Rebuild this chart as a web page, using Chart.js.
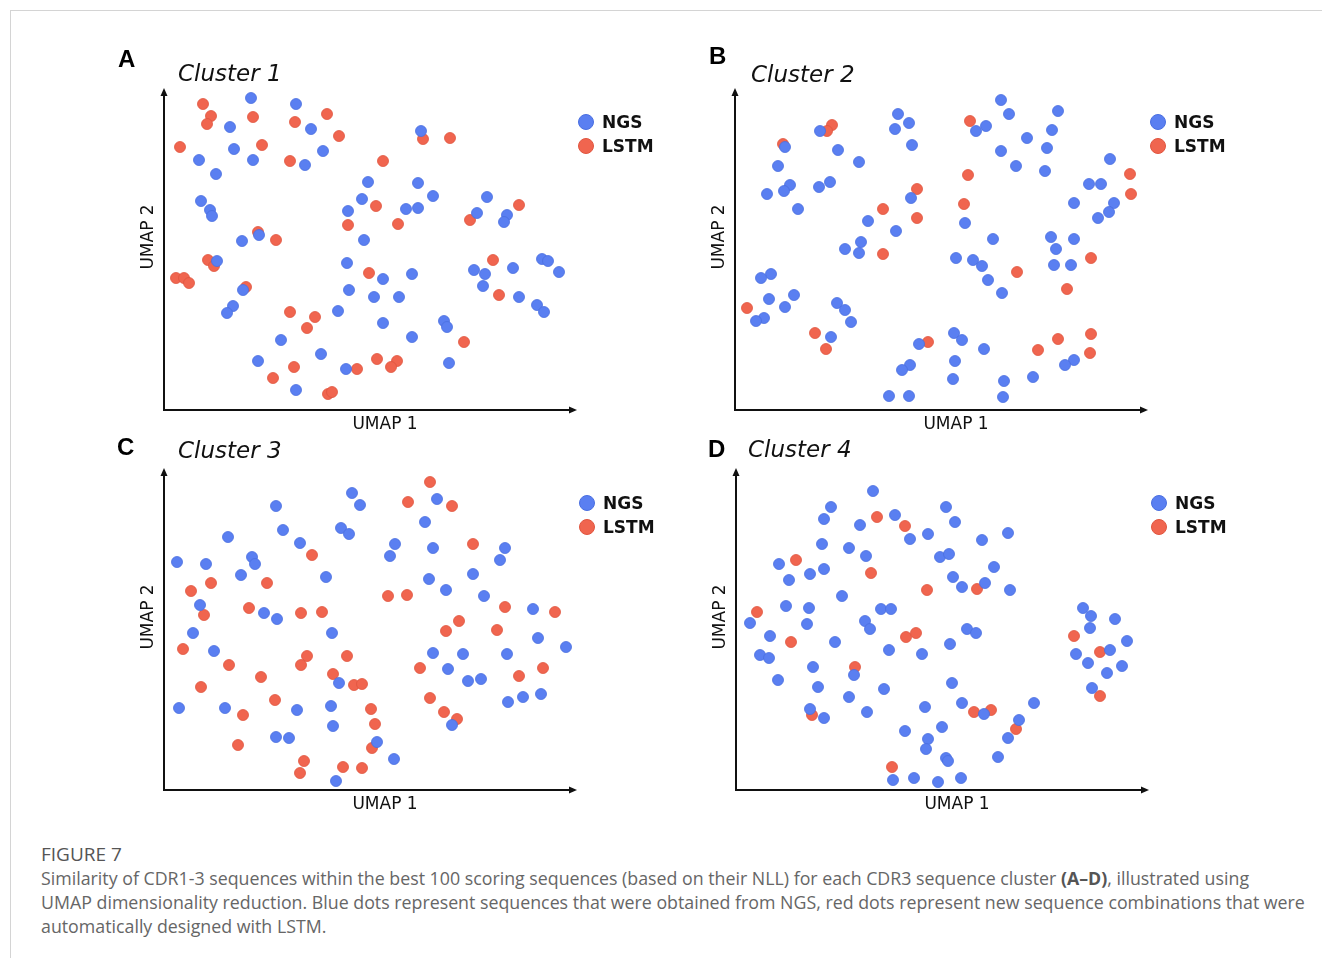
<!DOCTYPE html>
<html>
<head>
<meta charset="utf-8">
<script src="https://cdn.jsdelivr.net/npm/chart.js@4.4.1/dist/chart.umd.min.js"></script>
<style>
  html, body { margin: 0; padding: 0; background: #fff; }
  body { width: 1322px; height: 958px; position: relative; overflow: hidden; font-family: "DejaVu Sans", sans-serif; }
  .frame { position: absolute; left: 10px; top: 10px; right: 0; bottom: -2px; border-top: 1px solid #d4d4d4; border-left: 1px solid #d4d4d4; }
  canvas.umap { position: absolute; }
  .letter { position: absolute; font: bold 24px "Liberation Sans", Arial, sans-serif; line-height: 1; color: #000; }
  .ctitle { position: absolute; font: italic 23px "DejaVu Sans", sans-serif; line-height: 1; color: #111; }
  .legend { position: absolute; font: bold 17px "DejaVu Sans", sans-serif; color: #111; }
  .legend .row { display: flex; align-items: center; height: 24px; }
  .legend .dot { width: 16px; height: 16px; border-radius: 50%; margin-right: 8px; box-sizing: border-box; border: 1px solid; }
  .figlabel { position: absolute; left: 41px; top: 842px; font: 500 19px "Open Sans", sans-serif; line-height: 24px; color: #555; }
  .caption { position: absolute; left: 41px; top: 866px; font: 17.8px "Open Sans", sans-serif; line-height: 24px; color: #666; white-space: nowrap; }
  .caption b { color: #555; }
</style>
</head>
<body>
<div class="frame"></div>
<div class="figlabel">FIGURE 7</div>
<div class="caption">Similarity of CDR1-3 sequences within the best 100 scoring sequences (based on their NLL) for each CDR3 sequence cluster <b>(A–D)</b>, illustrated using<br>UMAP dimensionality reduction. Blue dots represent sequences that were obtained from NGS, red dots represent new sequence combinations that were<br>automatically designed with LSTM.</div>

<script>
const seriesLabels = ['NGS', 'LSTM'];
const panelLetters = ['A', 'B', 'C', 'D'];
const clusterTitles = ['Cluster 1', 'Cluster 2', 'Cluster 3', 'Cluster 4'];
const axisTitles = ['UMAP 1', 'UMAP 2'];
const umapMax = { x: 411, y: 320 };

// UMAP coordinates (arbitrary units)
const ngsA = [[87,312],[132,306],[66,283],[147,281],[70,261],[159,259],[35,250],[89,250],[141,245],[52,236],
  [204,228],[37,209],[198,211],[46,200],[48,194],[184,199],[95,175],[78,169],[200,170],[53,149],
  [183,147],[79,120],[185,120],[210,113],[69,104],[63,97],[174,99],[117,70],[157,56],[94,49],
  [182,41],[132,20],[257,279],[254,227],[269,214],[242,201],[254,202],[323,213],[313,197],[343,195],
  [340,188],[378,151],[384,149],[310,140],[321,136],[349,142],[395,138],[319,124],[355,113],[373,105],
  [380,98],[219,131],[248,136],[235,113],[219,87],[280,89],[283,83],[248,73],[285,47]];
const lstmA = [[39,306],[47,294],[43,286],[89,293],[131,288],[163,296],[175,274],[16,263],[98,265],[126,249],
  [184,185],[94,178],[112,170],[44,150],[50,144],[12,132],[20,132],[25,127],[205,137],[82,123],
  [126,98],[151,93],[143,82],[130,43],[193,41],[109,32],[164,16],[168,18],[259,271],[286,272],
  [219,249],[212,204],[234,186],[355,205],[306,190],[329,150],[335,115],[300,68],[213,51],[233,49],[227,43]];

const ngsB = [[163,296],[174,287],[160,281],[177,265],[85,279],[50,263],[103,260],[124,248],[43,244],[55,225],
  [49,219],[32,216],[84,223],[95,228],[63,201],[176,212],[133,189],[161,179],[126,168],[110,161],
  [124,157],[36,136],[26,132],[34,111],[59,115],[50,103],[29,92],[21,89],[102,107],[110,100],
  [116,88],[96,73],[184,66],[175,45],[167,40],[154,14],[174,14],[266,310],[274,296],[323,299],
  [251,284],[241,279],[317,280],[292,272],[312,262],[266,259],[281,244],[310,239],[375,251],[354,226],
  [366,226],[339,207],[379,207],[374,198],[363,192],[230,187],[258,171],[316,173],[339,171],[321,161],
  [221,152],[238,150],[247,144],[319,145],[336,145],[253,130],[267,117],[219,77],[227,70],[249,61],
  [339,50],[330,45],[220,49],[218,31],[298,33],[269,29],[268,13]];
const lstmB = [[97,285],[92,279],[48,266],[182,221],[148,201],[182,192],[148,156],[12,102],[80,77],[91,61],
  [193,68],[235,289],[395,236],[396,216],[233,235],[229,206],[356,152],[282,138],[332,121],[323,71],
  [356,76],[303,60],[355,57]];

const ngsC = [[188,297],[196,285],[112,284],[119,260],[177,262],[185,256],[64,253],[136,247],[13,228],[42,226],
  [88,233],[91,226],[77,215],[162,213],[36,185],[100,177],[113,171],[29,157],[168,157],[50,139],
  [175,107],[15,82],[61,82],[133,80],[167,84],[169,64],[112,53],[125,52],[172,9],[273,291],
  [261,268],[231,246],[226,234],[269,242],[341,242],[336,230],[309,216],[265,211],[282,200],[320,194],
  [369,181],[374,152],[402,143],[269,137],[299,136],[343,136],[284,121],[304,109],[317,111],[377,96],
  [359,93],[344,88],[288,65],[213,48],[230,31]];
const lstmC = [[148,235],[47,207],[103,207],[27,199],[40,175],[85,182],[137,177],[158,178],[19,141],[143,134],
  [137,125],[183,134],[65,125],[97,113],[169,116],[190,105],[198,106],[37,103],[111,90],[79,75],
  [74,45],[140,29],[136,17],[179,23],[198,22],[266,308],[244,288],[288,284],[309,246],[224,194],
  [243,195],[341,183],[391,178],[295,169],[282,159],[333,160],[256,122],[379,122],[355,114],[266,92],
  [280,78],[293,71],[207,81],[211,66],[208,42]];

const ngsD = [[137,299],[95,283],[88,271],[159,275],[124,265],[174,251],[192,256],[210,283],[86,246],[113,242],
  [130,234],[204,233],[43,226],[88,221],[74,216],[53,210],[106,194],[50,184],[73,182],[145,181],
  [155,181],[14,167],[71,166],[129,169],[134,161],[34,154],[99,148],[153,140],[186,136],[214,146],
  [24,135],[33,132],[77,123],[118,115],[42,110],[82,103],[148,101],[113,93],[189,83],[74,81],
  [88,72],[131,78],[169,59],[206,63],[192,51],[190,41],[157,10],[178,12],[202,8],[219,268],
  [246,250],[272,257],[213,236],[258,223],[217,213],[226,203],[249,207],[274,200],[231,161],[240,157],
  [216,107],[226,87],[248,76],[298,87],[283,70],[272,52],[262,33],[210,32],[212,29],[225,12],
  [347,182],[355,174],[354,162],[379,171],[391,149],[340,136],[374,140],[352,127],[371,117],[386,124],[356,102]];
const lstmD = [[141,273],[169,264],[60,230],[135,217],[191,200],[21,178],[55,148],[170,153],[180,157],[119,123],
  [76,75],[156,23],[241,201],[238,78],[255,80],[280,61],[338,154],[364,138],[364,94]];

const ngsSets = [ngsA, ngsB, ngsC, ngsD];
const lstmSets = [lstmA, lstmB, lstmC, lstmD];

const colors = {
  ngs: { fill: '#5a7ff1', edge: '#4a6fe0' },
  lstm: { fill: '#f0654f', edge: '#e0553f' }
};

// where each panel sits on the page
const layout = [
  { left: 130, top: 60, letter: [118, 47], title: [178, 62], legend: [578, 110] },
  { left: 701, top: 60, letter: [709, 44], title: [751, 63], legend: [1150, 110] },
  { left: 130, top: 440, letter: [117, 435], title: [178, 439], legend: [579, 491] },
  { left: 702, top: 440, letter: [708, 437], title: [748, 438], legend: [1151, 491] }
];

function toPoints(pairs) {
  return pairs.map(([x, y]) => ({ x, y }));
}

function addEl(cls, text, x, y) {
  const el = document.createElement('div');
  el.className = cls;
  el.textContent = text;
  el.style.left = x + 'px';
  el.style.top = y + 'px';
  document.body.appendChild(el);
  return el;
}

const axisArrows = {
  id: 'axisArrows',
  beforeDatasetsDraw(chart) {
    const { ctx, chartArea: a } = chart;
    ctx.save();
    ctx.strokeStyle = '#111';
    ctx.fillStyle = '#111';
    ctx.lineWidth = 2;
    ctx.beginPath();
    ctx.moveTo(a.left, a.top + 4);
    ctx.lineTo(a.left, a.bottom);
    ctx.lineTo(a.right - 4, a.bottom);
    ctx.stroke();

    ctx.beginPath();
    ctx.moveTo(a.left, a.top - 2);
    ctx.lineTo(a.left - 3.5, a.top + 6);
    ctx.lineTo(a.left + 3.5, a.top + 6);
    ctx.closePath();
    ctx.fill();

    ctx.beginPath();
    ctx.moveTo(a.right + 2, a.bottom);
    ctx.lineTo(a.right - 6, a.bottom - 3.5);
    ctx.lineTo(a.right - 6, a.bottom + 3.5);
    ctx.closePath();
    ctx.fill();

    ctx.font = '17px "DejaVu Sans"';
    ctx.textAlign = 'center';
    ctx.textBaseline = 'middle';
    ctx.fillText(axisTitles[0], a.left + 221, a.bottom + 15);
    ctx.translate(a.left - 15, a.top + 147);
    ctx.rotate(-Math.PI / 2);
    ctx.fillText(axisTitles[1], 0, 0);
    ctx.restore();
  }
};

function renderPanel(i) {
  const pos = layout[i];
  const canvas = document.createElement('canvas');
  canvas.className = 'umap';
  canvas.width = 470;
  canvas.height = 380;
  canvas.style.left = pos.left + 'px';
  canvas.style.top = pos.top + 'px';
  document.body.appendChild(canvas);

  new Chart(canvas, {
    type: 'scatter',
    data: {
      datasets: [
        {
          label: seriesLabels[0],
          data: toPoints(ngsSets[i]),
          backgroundColor: colors.ngs.fill,
          borderColor: colors.ngs.edge,
          borderWidth: 0.8,
          pointRadius: 5.5,
          clip: false
        },
        {
          label: seriesLabels[1],
          data: toPoints(lstmSets[i]),
          backgroundColor: colors.lstm.fill,
          borderColor: colors.lstm.edge,
          borderWidth: 0.8,
          pointRadius: 5.5,
          clip: false
        }
      ]
    },
    options: {
      responsive: false,
      animation: false,
      devicePixelRatio: 1,
      events: [],
      layout: { padding: { left: 34, top: 30, right: 25, bottom: 30 } },
      scales: {
        x: { type: 'linear', min: 0, max: umapMax.x, display: false },
        y: { type: 'linear', min: 0, max: umapMax.y, display: false }
      },
      plugins: {
        legend: { display: false },
        tooltip: { enabled: false }
      }
    },
    plugins: [axisArrows]
  });

  addEl('letter', panelLetters[i], pos.letter[0], pos.letter[1]);
  addEl('ctitle', clusterTitles[i], pos.title[0], pos.title[1]);

  const legend = addEl('legend', '', pos.legend[0], pos.legend[1]);
  [colors.ngs, colors.lstm].forEach((c, k) => {
    const row = document.createElement('div');
    row.className = 'row';
    const dot = document.createElement('span');
    dot.className = 'dot';
    dot.style.background = c.fill;
    dot.style.borderColor = c.edge;
    const label = document.createElement('span');
    label.textContent = seriesLabels[k];
    row.appendChild(dot);
    row.appendChild(label);
    legend.appendChild(row);
  });
}

for (let i = 0; i < 4; i++) renderPanel(i);
</script>
</body>
</html>
